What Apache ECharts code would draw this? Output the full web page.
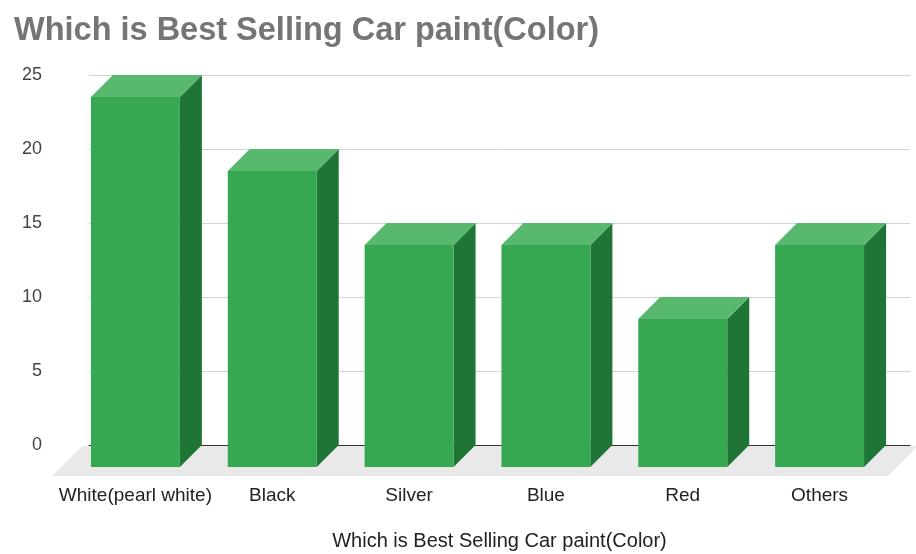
<!DOCTYPE html>
<html>
<head>
<meta charset="utf-8">
<script src="https://cdn.jsdelivr.net/npm/echarts@6/dist/echarts.min.js"></script>
<style>
  html, body { margin: 0; padding: 0; background: #fff; }
  #chart { width: 916px; height: 554px; }
</style>
</head>
<body>
<div id="chart"></div>
<script>
// Best-selling car paint colours
const categories = ['White(pearl white)', 'Black', 'Silver', 'Blue', 'Red', 'Others'];
const shares = [25, 20, 15, 15, 10, 15];
const yTicks = [0, 5, 10, 15, 20, 25];

const chartTitle = 'Which is Best Selling Car paint(Color)';
const axisTitle = 'Which is Best Selling Car paint(Color)';

const FRONT = '#36a852';
const SIDE = '#1f7535';
const TOP = '#58b86d';
const FLOOR = '#e9e9e9';
const DEPTH = 22;       // bar depth offset in px (right / up)
const FLOOR_DEPTH = 30; // floor extends further forward than bars

const chart = echarts.init(document.getElementById('chart'), null, { renderer: 'canvas' });

function renderFloor(params, api) {
  const cs = params.coordSys;
  const y0 = api.coord([0, 0])[1] + 1;
  const xl = cs.x - 7, xr = cs.x + cs.width + 8;
  return {
    type: 'polygon',
    shape: { points: [[xl, y0], [xr, y0], [xr - FLOOR_DEPTH, y0 + FLOOR_DEPTH], [xl - FLOOR_DEPTH, y0 + FLOOR_DEPTH]] },
    style: { fill: FLOOR },
    silent: true
  };
}

function renderBar(params, api) {
  const idx = api.value(0);
  const v = api.value(1);
  const base = api.coord([idx, 0]);
  const top = api.coord([idx, v]);
  const band = api.size([1, 0])[0];
  const w = band * 0.65;
  const c = base[0];
  const y0 = base[1], yv = top[1];
  const lb = c - w / 2, rb = c + w / 2;          // back face edges
  const lf = lb - DEPTH, rf = rb - DEPTH;        // front face edges
  return {
    type: 'group',
    children: [
      {
        type: 'polygon',
        shape: { points: [[rf, yv + DEPTH], [rb, yv], [rb, y0], [rf, y0 + DEPTH]] },
        style: { fill: SIDE }
      },
      {
        type: 'polygon',
        shape: { points: [[lf, yv + DEPTH], [lb, yv], [rb, yv], [rf, yv + DEPTH]] },
        style: { fill: TOP }
      },
      {
        type: 'rect',
        shape: { x: lf, y: yv + DEPTH, width: w, height: y0 - yv },
        style: { fill: FRONT }
      }
    ]
  };
}

chart.setOption({
  animation: false,
  title: {
    text: chartTitle,
    left: 9,
    top: 10,
    textStyle: { fontFamily: 'Liberation Sans, Arial, sans-serif', fontSize: 32.5, fontWeight: 'bold', color: '#757575' }
  },
  grid: { left: 89, right: 6, top: 75, bottom: 109, outerBoundsMode: 'none', containLabel: false },
  xAxis: {
    type: 'category',
    data: categories,
    name: axisTitle,
    nameLocation: 'middle',
    nameGap: 86,
    nameTextStyle: { fontFamily: 'Liberation Sans, Arial, sans-serif', fontSize: 20, color: '#222' },
    axisLine: { show: true, lineStyle: { color: '#333', width: 1 } },
    axisTick: { show: false },
    axisLabel: {
      fontFamily: 'Liberation Sans, Arial, sans-serif',
      fontSize: 19,
      color: '#222',
      margin: 41,
      padding: [0, DEPTH * 2, 0, 0],
      interval: 0
    },
    splitLine: { show: false }
  },
  yAxis: {
    type: 'value',
    min: yTicks[0],
    max: yTicks[yTicks.length - 1],
    interval: 5,
    axisLine: { show: false },
    axisTick: { show: false },
    axisLabel: { fontFamily: 'Liberation Sans, Arial, sans-serif', fontSize: 18, color: '#444', margin: 47 },
    splitLine: { lineStyle: { color: '#d4d4d4', width: 1 } }
  },
  series: [
    {
      type: 'custom',
      z: 0,
      renderItem: renderFloor,
      data: [[0, 0]],
      silent: true
    },
    {
      type: 'custom',
      z: 3,
      renderItem: renderBar,
      encode: { x: 0, y: 1 },
      data: categories.map((c, i) => [i, shares[i]])
    }
  ]
});
</script>
</body>
</html>
